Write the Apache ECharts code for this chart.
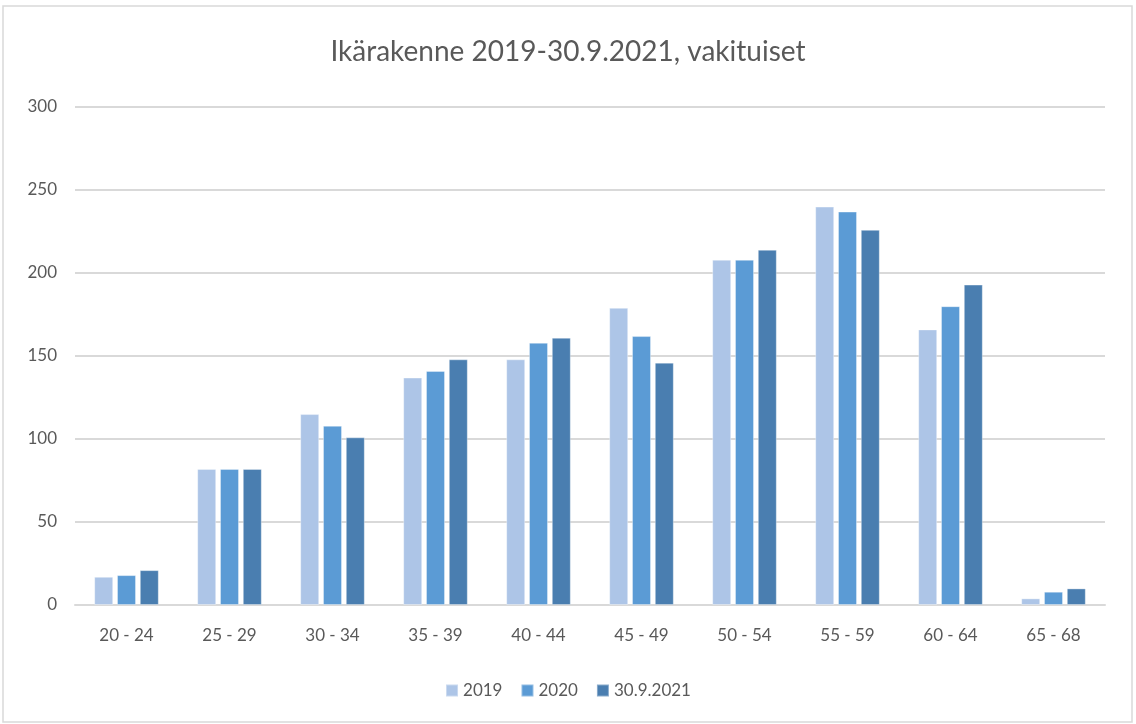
<!DOCTYPE html>
<html>
<head>
<meta charset="utf-8">
<script src="https://cdn.jsdelivr.net/npm/echarts@6/dist/echarts.min.js"></script>
<style>
html,body{margin:0;padding:0;background:#fff;}
#main{width:1136px;height:724px;}
</style>
</head>
<body>
<div id="main"></div>
<script>
var ageGroups = ['20 - 24', '25 - 29', '30 - 34', '35 - 39', '40 - 44', '45 - 49', '50 - 54', '55 - 59', '60 - 64', '65 - 68'];
var seriesNames = ['2019', '2020', '30.9.2021'];
var v2019 = [17, 82, 115, 137, 148, 179, 208, 240, 166, 4];
var v2020 = [18, 82, 108, 141, 158, 162, 208, 237, 180, 8];
var v2021 = [21, 82, 101, 148, 161, 146, 214, 226, 193, 10];
var colors = ['#adc5e7', '#5b9bd5', '#4a7eb0'];

var myChart = echarts.init(document.getElementById('main'));
var fnt = 'Lato, "Open Sans", sans-serif';

function bar(name, data, i) {
    return {
        name: name,
        type: 'bar',
        data: data,
        barWidth: 19,
        barGap: '20%',
        itemStyle: {
            color: colors[i],
            borderColor: 'rgba(255,255,255,0.35)',
            borderWidth: 1
        }
    };
}

var option = {
    backgroundColor: '#fff',
    animation: false,
    title: {
        text: 'Ikärakenne 2019-30.9.2021, vakituiset',
        left: 'center',
        top: 33,
        textStyle: {
            fontFamily: fnt,
            fontWeight: 'normal',
            fontSize: 28,
            color: '#595959'
        }
    },
    legend: {
        data: seriesNames,
        bottom: 20,
        left: 'center',
        itemWidth: 12,
        itemHeight: 12,
        itemGap: 18,
        icon: 'rect',
        textStyle: { fontFamily: fnt, fontSize: 17, color: '#595959' }
    },
    grid: {
        left: 75,
        right: 31,
        top: 107,
        bottom: 119
    },
    xAxis: {
        type: 'category',
        data: ageGroups,
        axisLine: { lineStyle: { color: '#d9d9d9', width: 2 } },
        axisTick: { show: false },
        axisLabel: { fontFamily: fnt, fontSize: 17, color: '#595959', margin: 22 }
    },
    yAxis: {
        type: 'value',
        min: 0,
        max: 300,
        interval: 50,
        axisLine: { show: false },
        axisTick: { show: false },
        axisLabel: { fontFamily: fnt, fontSize: 17, color: '#595959', margin: 18 },
        splitLine: { lineStyle: { color: '#d9d9d9', width: 2 } }
    },
    graphic: [{
        type: 'rect',
        shape: { x: 3, y: 6, width: 1129, height: 716 },
        style: { fill: 'none', stroke: '#d9d9d9', lineWidth: 1.5 },
        silent: true
    }],
    series: [
        bar(seriesNames[0], v2019, 0),
        bar(seriesNames[1], v2020, 1),
        bar(seriesNames[2], v2021, 2)
    ]
};
myChart.setOption(option);
</script>
</body>
</html>
